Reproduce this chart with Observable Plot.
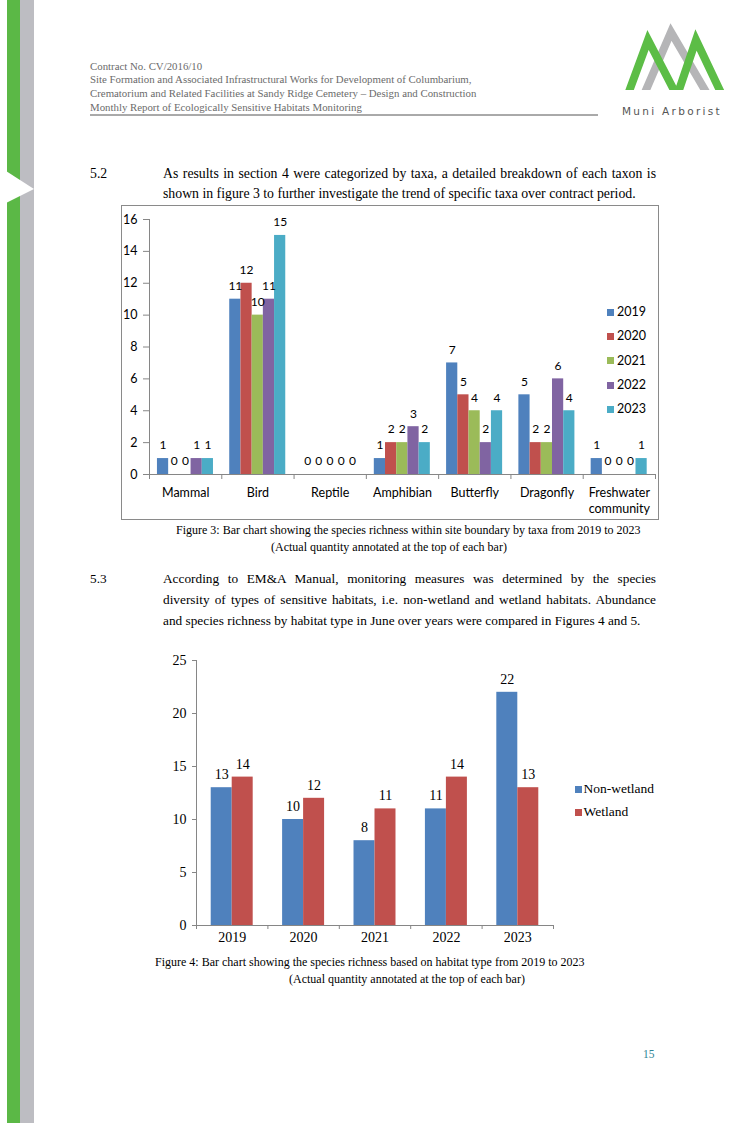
<!DOCTYPE html>
<html><head><meta charset="utf-8">
<script src="https://cdn.jsdelivr.net/npm/d3@7"></script>
<script src="https://cdn.jsdelivr.net/npm/@observablehq/plot@0.6"></script>
<style>
html,body{margin:0;padding:0;background:#fff}
body{width:730px;height:1123px;position:relative;overflow:hidden;font-family:"Liberation Serif",serif;color:#000}
.abs{position:absolute;white-space:nowrap}
#box1{position:absolute;left:121px;top:205px;width:536px;height:313px;border:1px solid #8a8a8a}
#box1 svg,#box2 svg{display:block}
#box2{position:absolute;left:150px;top:645px}
.sw{position:absolute;width:7px;height:7px}
</style></head><body>
<svg class="abs" style="left:0;top:0" width="730" height="1123">
  <defs><clipPath id="logoclip"><rect x="600" y="0" width="130" height="90"/></clipPath></defs>
  <rect x="7" y="0" width="13" height="1123" fill="#5bb846"/>
  <rect x="20" y="0" width="14" height="1123" fill="#bdbdc2"/>
  <polygon points="6,171 34,189 6,203" fill="#fff"/>
  <line x1="90" x2="598" y1="115" y2="115" stroke="#555" stroke-width="1"/>
  <g clip-path="url(#logoclip)">
    <polyline points="643,97 671,32 709,97" fill="none" stroke="#b5b5b7" stroke-width="8" stroke-linejoin="miter"/>
    <polyline points="627,97 648,40 677,96 696,40 723,97" fill="none" stroke="#5cbd46" stroke-width="8" stroke-linejoin="miter"/>
  </g>
</svg>
<div id="box1"></div>
<div id="box2"></div>
<script>
// ---------- data ----------
const taxa = ["Mammal", "Bird", "Reptile", "Amphibian", "Butterfly", "Dragonfly", "Freshwater\ncommunity"];
const years = ["2019", "2020", "2021", "2022", "2023"];
const taxa2019 = [1, 11, 0, 1, 7, 5, 1];
const taxa2020 = [0, 12, 0, 2, 5, 2, 0];
const taxa2021 = [0, 10, 0, 2, 4, 2, 0];
const taxa2022 = [1, 11, 0, 3, 2, 6, 0];
const taxa2023 = [1, 15, 0, 2, 4, 4, 1];
const yTicks1 = [0, 2, 4, 6, 8, 10, 12, 14, 16];
const yearColors = ["#4F81BD", "#C0504D", "#9BBB59", "#8064A2", "#4BACC6"];

const habitatYears = ["2019", "2020", "2021", "2022", "2023"];
const habitats = ["Non-wetland", "Wetland"];
const nonWetland = [13, 10, 8, 11, 22];
const wetland = [14, 12, 11, 14, 13];
const yTicks2 = [0, 5, 10, 15, 20, 25];
const habitatColors = ["#4F81BD", "#C0504D"];

// ---------- text helpers ----------
const SERIF = '"Liberation Serif", serif';
const SANS = 'Lato, sans-serif';
function measure(s, family, fs) {
  const sp = document.createElement("span");
  sp.style.cssText = `position:absolute;visibility:hidden;white-space:nowrap;font-family:${family};font-size:${fs}px`;
  sp.textContent = s; document.body.appendChild(sp);
  const w = sp.getBoundingClientRect().width; sp.remove(); return w;
}
function fit(s, family, target) { return 100 * target / measure(s, family, 100); }
function txt(s, x, cy, fs, o = {}) {
  const d = document.createElement("div");
  d.className = "abs";
  d.textContent = s;
  const fam = o.family || SERIF;
  d.style.fontFamily = fam;
  d.style.fontSize = fs + "px";
  d.style.lineHeight = fs + "px";
  d.style.top = (cy - fs / 2) + "px";
  d.style.color = o.color || "#000";
  if (o.ls) d.style.letterSpacing = o.ls + "px";
  if (o.justify) {
    d.style.width = o.justify + "px"; d.style.textAlign = "justify";
    d.style.textAlignLast = "justify"; d.style.whiteSpace = "normal";
  }
  d.style.left = x + "px";
  document.body.appendChild(d);
  return d;
}

// header
const hdr = ["Contract No. CV/2016/10",
  "Site Formation and Associated Infrastructural Works for Development of Columbarium,",
  "Crematorium and Related Facilities at Sandy Ridge Cemetery \u2013 Design and Construction",
  "Monthly Report of Ecologically Sensitive Habitats Monitoring"];
const hfs = fit(hdr[1], SERIF, 382);
[66, 79, 93, 107].forEach((y, i) => txt(hdr[i], 90, y, hfs, {color: "#6b6b6b"}));
txt("Muni Arborist", 622, 111, 10.5, {family: '"DejaVu Sans", sans-serif', color: "#555", ls: 2.3});

// 5.2
const p52 = ["As results in section 4 were categorized by taxa, a detailed breakdown of each taxon is",
  "shown in figure 3 to further investigate the trend of specific taxa over contract period."];
const f52 = fit(p52[1], SERIF, 473);
txt("5.2", 90, 174, f52);
txt(p52[0], 163, 174, f52, {justify: 493});
txt(p52[1], 163, 193.5, f52);

// captions fig 3
const cap1 = "Figure 3: Bar chart showing the species richness within site boundary by taxa from 2019 to 2023";
const cap2 = "(Actual quantity annotated at the top of each bar)";
const fcap = fit(cap1, SERIF, 465);
txt(cap1, 176, 530, fcap);
txt(cap2, 271, 547, fcap);

// 5.3
const p53 = ["According to EM&A Manual, monitoring measures was determined by the species",
  "diversity of types of sensitive habitats, i.e. non-wetland and wetland habitats. Abundance",
  "and species richness by habitat type in June over years were compared in Figures 4 and 5."];
const f53 = fit(p53[2], SERIF, 478);
txt("5.3", 90, 579, f53);
txt(p53[0], 163, 579, f53, {justify: 493});
txt(p53[1], 163, 600, f53, {justify: 493});
txt(p53[2], 163, 621, f53);

// captions fig 4
const cap3 = "Figure 4: Bar chart showing the species richness based on habitat type from 2019 to 2023";
txt(cap3, 155, 962, fcap);
txt(cap2, 289, 979, fcap);

// page number
txt("15", 643, 1055, 11.5, {color: "#2f8595"});

// ---------- chart 1 ----------
const series1 = [taxa2019, taxa2020, taxa2021, taxa2022, taxa2023];
const rows1 = taxa.flatMap((t, i) => years.map((yr, j) => ({i, j, year: yr, value: series1[j][i]})));
const pad1 = 0.11, bw1 = 0.155;
const chart1 = Plot.plot({
  width: 536, height: 313, marginLeft: 27, marginRight: 3, marginTop: 13, marginBottom: 45,
  style: {fontFamily: SANS, fontSize: "12px", color: "#000", background: "transparent", overflow: "visible"},
  x: {type: "linear", domain: [0, taxa.length], axis: null},
  y: {domain: [0, 16], axis: null},
  color: {domain: years, range: yearColors},
  marks: [
    Plot.rect(rows1, {x1: d => d.i + pad1 + d.j * bw1, x2: d => d.i + pad1 + (d.j + 1) * bw1, y1: d => 0, y2: "value", fill: "year"}),
    Plot.ruleY([0], {stroke: "#868686"}),
    Plot.ruleX([0], {stroke: "#868686"}),
    Plot.axisY({ticks: yTicks1, label: null, tickSize: 6, tickPadding: 6, stroke: "#868686", fill: "#000", fontSize: 12.5, fontFamily: SANS}),
    Plot.axisX({ticks: d3.range(taxa.length + 1), label: null, tickFormat: () => "", tickSize: 5, stroke: "#868686"}),
    Plot.axisX({ticks: taxa.map((t, i) => i + 0.5), label: null, tickFormat: v => taxa[Math.floor(v)], tickSize: 0, tickPadding: 11, fill: "#000", fontSize: 12.5, fontFamily: SANS, lineHeight: 1.3}),
    Plot.text(rows1, {x: d => d.i + pad1 + (d.j + 0.5) * bw1, y: "value", text: d => String(d.value), dy: -13, fontSize: 12, fill: "#000", fontFamily: SANS})
  ]
});
document.getElementById("box1").appendChild(chart1);
// legend 1
years.forEach((yr, j) => {
  const cy = 312.5 + j * 24.2;
  const s = document.createElement("div"); s.className = "sw";
  s.style.left = "607px"; s.style.top = (cy - 3.5) + "px"; s.style.background = yearColors[j];
  document.body.appendChild(s);
  txt(yr, 617, cy, 12.5, {family: SANS});
});

// ---------- chart 2 ----------
const series2 = [nonWetland, wetland];
const rows2 = habitatYears.flatMap((yr, i) => habitats.map((h, j) => ({i, j, habitat: h, value: series2[j][i]})));
const pad2 = 0.206, bw2 = 0.294;
const chart2 = Plot.plot({
  width: 413, height: 310, marginLeft: 46, marginRight: 10, marginTop: 15, marginBottom: 30,
  style: {fontFamily: SERIF, fontSize: "14px", color: "#000", background: "transparent", overflow: "visible"},
  x: {type: "linear", domain: [0, habitatYears.length], axis: null},
  y: {domain: [0, 25], axis: null},
  color: {domain: habitats, range: habitatColors},
  marks: [
    Plot.rect(rows2, {x1: d => d.i + pad2 + d.j * bw2, x2: d => d.i + pad2 + (d.j + 1) * bw2, y1: d => 0, y2: "value", fill: "habitat"}),
    Plot.ruleY([0], {stroke: "#868686"}),
    Plot.ruleX([0], {stroke: "#868686"}),
    Plot.axisY({ticks: yTicks2, label: null, tickSize: 4, tickPadding: 6, stroke: "#868686", fill: "#000", fontSize: 14, fontFamily: SERIF}),
    Plot.axisX({ticks: d3.range(habitatYears.length + 1), label: null, tickFormat: () => "", tickSize: 4, stroke: "#868686"}),
    Plot.axisX({ticks: habitatYears.map((t, i) => i + 0.5), label: null, tickFormat: v => habitatYears[Math.floor(v)], tickSize: 0, tickPadding: 7, fill: "#000", fontSize: 14, fontFamily: SERIF}),
    Plot.text(rows2, {x: d => d.i + pad2 + (d.j + 0.5) * bw2, y: "value", text: d => String(d.value), dy: -13, fontSize: 14, fill: "#000", fontFamily: SERIF})
  ]
});
document.getElementById("box2").appendChild(chart2);
habitats.forEach((h, j) => {
  const cy = 789 + j * 23;
  const s = document.createElement("div"); s.className = "sw";
  s.style.left = "575px"; s.style.top = (cy - 3.5) + "px"; s.style.background = habitatColors[j];
  document.body.appendChild(s);
  txt(h, 583.5, cy, 13.5);
});
</script>
</body></html>
